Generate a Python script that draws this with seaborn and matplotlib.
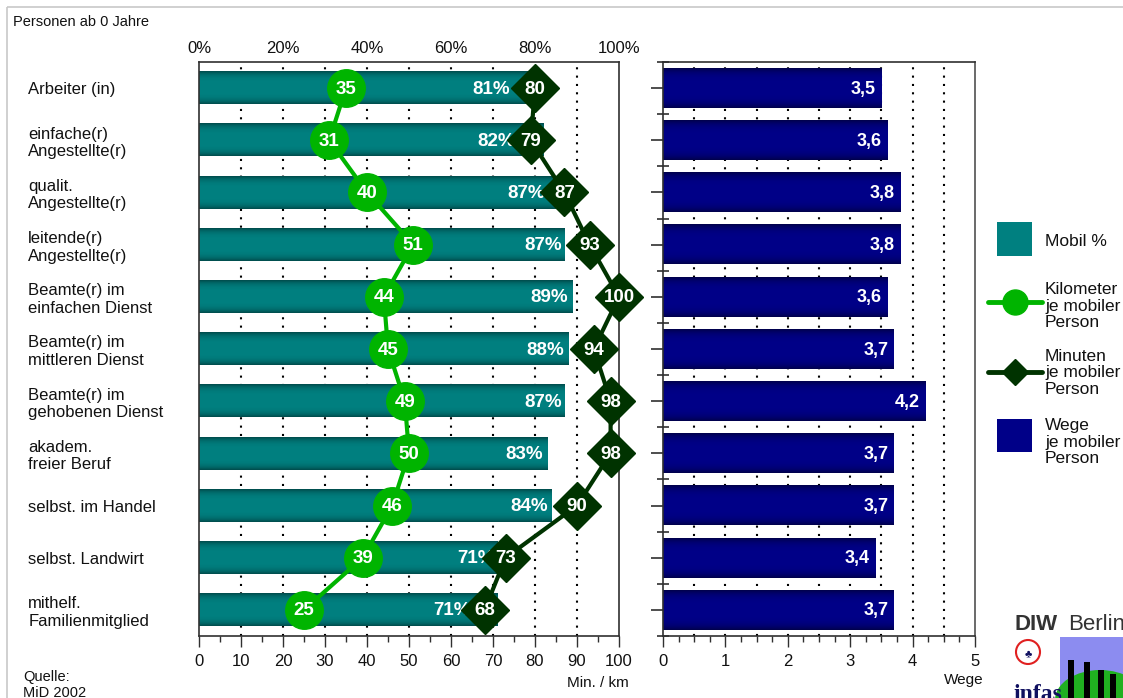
import numpy as np
import pandas as pd
import seaborn as sns
import matplotlib.pyplot as plt
from matplotlib.lines import Line2D
from matplotlib.patches import Rectangle, Circle, Ellipse

# ---------------- data ----------------
categories = ["Arbeiter (in)", "einfache(r)\nAngestellte(r)", "qualit.\nAngestellte(r)",
              "leitende(r)\nAngestellte(r)", "Beamte(r) im\neinfachen Dienst",
              "Beamte(r) im\nmittleren Dienst", "Beamte(r) im\ngehobenen Dienst",
              "akadem.\nfreier Beruf", "selbst. im Handel", "selbst. Landwirt",
              "mithelf.\nFamilienmitglied"]
mobil_pct = [81, 82, 87, 87, 89, 88, 87, 83, 84, 71, 71]
km_per_person = [35, 31, 40, 51, 44, 45, 49, 50, 46, 39, 25]
min_per_person = [80, 79, 87, 93, 100, 94, 98, 98, 90, 73, 68]
wege_per_person = [3.5, 3.6, 3.8, 3.8, 3.6, 3.7, 4.2, 3.7, 3.7, 3.4, 3.7]
pct_ticks = [0, 20, 40, 60, 80, 100]
left_ticks = list(range(0, 101, 10))
right_ticks = [0, 1, 2, 3, 4, 5]
left_grid = list(range(10, 100, 10))
right_grid = [0.5, 1.0, 1.5, 2.0, 2.5, 3.0, 3.5, 4.0, 4.5]

# label placement (style only): how far the % labels sit inside the bar end
pct_label_inset = [6.9, 6.7, 4.5, 0.6, 1.2, 1.0, 0.6, 1.2, 1.0, 0.5, 6.2]

df = pd.DataFrame({"cat": categories, "mobil": mobil_pct, "km": km_per_person,
                   "minuten": min_per_person, "wege": wege_per_person})

# ---------------- style ----------------
sns.set_theme(style="white")
plt.rcParams["font.family"] = ["Liberation Sans", "DejaVu Sans"]

TEAL = "#008080"
TEAL_DARK = "#004c4c"
NAVY = "#000088"
NAVY_DARK = "#00004c"
GREEN = "#00b400"
DGREEN = "#003300"
SPINE = "#303030"
TXT = "#111111"

W, H = 1123, 698
fig = plt.figure(figsize=(W / 100, H / 100), dpi=100)
fig.patch.set_facecolor("white")

# decoration / legend layer in pixel coordinates
deco = fig.add_axes([0, 0, 1, 1], zorder=-1)
deco.set_xlim(0, W)
deco.set_ylim(H, 0)
deco.axis("off")
deco.add_patch(Rectangle((7, 7), W, H, fill=False, edgecolor="#c8c8c8", lw=1.2))

axL = fig.add_axes([199 / W, (H - 636) / H, 420 / W, 574 / H])
axR = fig.add_axes([663 / W, (H - 636) / H, 312 / W, 574 / H])


def gradient_bars(ax, light, dark):
    light = np.array(plt.matplotlib.colors.to_rgb(light))
    dark = np.array(plt.matplotlib.colors.to_rgb(dark))
    t = np.linspace(0, 1, 64)
    v = 1 - np.abs(2 * t - 1) ** 4
    img = (dark[None, :] + (light - dark)[None, :] * v[:, None])[:, None, :]
    for p in list(ax.patches):
        x, y, w, h = p.get_x(), p.get_y(), p.get_width(), p.get_height()
        ax.imshow(img, extent=(x, x + w, y + h, y), aspect="auto", zorder=2.1,
                  interpolation="bilinear")


# ---------------- left panel ----------------
for g in left_grid:
    axL.axvline(g, color="black", lw=1.5, linestyle=(0, (1, 3)), zorder=0.5)

sns.barplot(data=df, y="cat", x="mobil", orient="h", color=TEAL, saturation=1,
            width=0.62, ax=axL, zorder=2, edgecolor="none")
gradient_bars(axL, TEAL, TEAL_DARK)

ypos = np.arange(len(categories))
for i, v in enumerate(mobil_pct):
    axL.text(v - pct_label_inset[i], i + 0.02, f"{v}%", ha="right", va="center",
             color="white", fontweight="bold", fontsize=13.5, zorder=3)

axL.plot(km_per_person, ypos, color=GREEN, lw=3, marker="o", ms=27,
         mec=GREEN, mfc=GREEN, zorder=4, clip_on=False)
axL.plot(min_per_person, ypos, color=DGREEN, lw=3, marker="D", ms=24,
         mec=DGREEN, mfc=DGREEN, zorder=5, clip_on=False)
for i, (k, m) in enumerate(zip(km_per_person, min_per_person)):
    axL.text(k, i + 0.02, f"{k}", ha="center", va="center", color="white",
             fontweight="bold", fontsize=13.5, zorder=6, clip_on=False)
    axL.text(m, i + 0.02, f"{m}", ha="center", va="center", color="white",
             fontweight="bold", fontsize=13.5, zorder=6, clip_on=False)

axL.set_xlim(0, 100)
axL.set_ylim(len(categories) - 0.5, -0.5)
axL.set_xlabel("")
axL.set_ylabel("")
axL.set_xticks(left_ticks)
axL.set_xticklabels([str(t) for t in left_ticks])
axL.set_xticks(np.arange(0, 101, 5), minor=True)
axL.tick_params(axis="x", which="major", direction="out", length=8, width=1,
                color=SPINE, labelsize=12, pad=5, bottom=True, labelcolor=TXT)
axL.tick_params(axis="x", which="minor", direction="out", length=4, width=1,
                color=SPINE, bottom=True)
axL.set_yticks(ypos)
axL.set_yticklabels(categories)
axL.tick_params(axis="y", length=0, pad=123, labelsize=12, labelcolor=TXT)
for lbl in axL.get_yticklabels():
    lbl.set_horizontalalignment("left")
    lbl.set_linespacing(1.2)
for s in axL.spines.values():
    s.set_visible(True)
    s.set_color(SPINE)
    s.set_linewidth(1.2)

sec = axL.secondary_xaxis("top")
sec.set_xticks(pct_ticks)
sec.set_xticklabels([f"{p}%" for p in pct_ticks])
sec.tick_params(length=0, labelsize=12, pad=4, labelcolor=TXT)
for s in sec.spines.values():
    s.set_visible(False)

# ---------------- right panel ----------------
for g in right_grid:
    axR.axvline(g, color="black", lw=1.5, linestyle=(0, (1, 3)), zorder=0.5)

sns.barplot(data=df, y="cat", x="wege", orient="h", color=NAVY, saturation=1,
            width=0.76, ax=axR, zorder=2, edgecolor="none")
gradient_bars(axR, NAVY, NAVY_DARK)
for i, v in enumerate(wege_per_person):
    axR.text(v - 0.09, i + 0.02, f"{v:.1f}".replace(".", ","), ha="right", va="center",
             color="white", fontweight="bold", fontsize=13, zorder=3)

axR.set_xlim(0, 5)
axR.set_ylim(len(categories) - 0.5, -0.5)
axR.set_xlabel("")
axR.set_ylabel("")
axR.set_xticks(right_ticks)
axR.set_xticklabels([str(t) for t in right_ticks])
axR.set_xticks(np.arange(0, 5.01, 0.25), minor=True)
axR.tick_params(axis="x", which="major", direction="out", length=8, width=1,
                color=SPINE, labelsize=12, pad=5, bottom=True, labelcolor=TXT)
axR.tick_params(axis="x", which="minor", direction="out", length=4, width=1,
                color=SPINE, bottom=True)
axR.set_yticks(ypos)
axR.set_yticklabels([])
axR.set_yticks(np.arange(-0.5, len(categories), 1.0), minor=True)
axR.tick_params(axis="y", which="major", direction="out", length=9, width=1.2,
                color=SPINE, left=True)
axR.tick_params(axis="y", which="minor", direction="inout", length=8, width=1.2,
                color=SPINE, left=True)
for s in axR.spines.values():
    s.set_visible(True)
    s.set_color(SPINE)
    s.set_linewidth(1.2)
axR.spines["right"].set_color("#505050")

# ---------------- texts ----------------
deco.text(13, 22, "Personen ab 0 Jahre", fontsize=10.5, va="center", ha="left", color=TXT)
deco.text(629, 683, "Min. / km", fontsize=11, va="center", ha="right", color=TXT)
deco.text(964, 680, "Wege", fontsize=11, va="center", ha="center", color=TXT)
deco.text(23, 677, "Quelle:", fontsize=10.5, va="center", ha="left", color=TXT)
deco.text(23, 693, "MiD 2002", fontsize=10.5, va="center", ha="left", color=TXT)

# ---------------- legend ----------------
leg_fs = 12.5
deco.add_patch(Rectangle((997, 222), 35, 34, facecolor=TEAL, edgecolor="none"))
deco.text(1045, 241, "Mobil %", fontsize=leg_fs, va="center", ha="left", color=TXT)

deco.add_line(Line2D([988, 1042], [302, 302], color=GREEN, lw=3.5, zorder=3))
deco.plot([1015], [302], marker="o", ms=18, color=GREEN, zorder=4)
deco.text(1045, 306, "Kilometer\nje mobiler\nPerson", fontsize=leg_fs, va="center",
          ha="left", linespacing=1.15, color=TXT)

deco.add_line(Line2D([988, 1042], [372, 372], color=DGREEN, lw=3.5, zorder=3))
deco.plot([1015], [372], marker="D", ms=13, color=DGREEN, zorder=4)
deco.text(1045, 373, "Minuten\nje mobiler\nPerson", fontsize=leg_fs, va="center",
          ha="left", linespacing=1.15, color=TXT)

deco.add_patch(Rectangle((997, 419), 35, 33, facecolor=NAVY, edgecolor="none"))
deco.text(1045, 442, "Wege\nje mobiler\nPerson", fontsize=leg_fs, va="center",
          ha="left", linespacing=1.15, color=TXT)

# ---------------- logos (approximate) ----------------
deco.text(1015, 624, "DIW", fontsize=16, fontweight="bold", va="center", ha="left",
          color="#333333")
deco.text(1068, 624, "Berlin", fontsize=16, va="center", ha="left", color="#333333")
deco.add_patch(Circle((1028, 652), 12, fill=False, edgecolor="#e02020", lw=1.5))
deco.text(1028, 654, "\u2663", fontsize=8, ha="center", va="center", color="#101060")
deco.add_patch(Rectangle((1060, 637), 70, 70, facecolor="#8c8cf0", edgecolor="none"))
deco.add_patch(Ellipse((1100, 700), 90, 60, facecolor="#20b020", edgecolor="none"))
for px, ph in [(1071, 40), (1087, 38), (1101, 30), (1113, 26)]:
    deco.add_patch(Rectangle((px - 3, 700 - ph), 6, ph, facecolor="black", edgecolor="none"))
deco.text(1013, 694, "infas", fontsize=17, fontweight="bold", va="center", ha="left",
          color="#101060", family=["Liberation Serif", "DejaVu Serif"])

fig.savefig("out.png", dpi=100)
